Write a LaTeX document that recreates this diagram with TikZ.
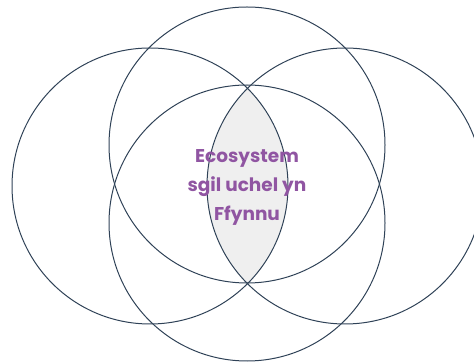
\documentclass[tikz,border=0pt]{standalone}
\usepackage{fontspec}
\setmainfont{Poppins}
\usetikzlibrary{positioning}
\definecolor{ringline}{HTML}{2F4257}
\definecolor{lensgrey}{HTML}{EFEFEF}
\definecolor{labelpurple}{HTML}{9055A2}

\begin{document}
\begin{tikzpicture}[x=1pt, y=-1pt, ring/.style={draw=ringline, line width=1pt}]
    \useasboundingbox (0,0) rectangle (474,363);
    % shaded overlap of left and right rings
    \begin{scope}
        \clip (150,186) circle (138pt);
        \fill[lensgrey] (345,186) circle (138pt);
    \end{scope}
    \draw[ring] (150,186) circle (138pt);
    \draw[ring] (247,145) circle (138pt);
    \draw[ring] (345,186) circle (138pt);
    \draw[ring] (247,223) circle (138pt);
    \node[text=labelpurple, font=\bfseries\fontsize{18.5}{29}\selectfont, align=center] (label) at (247,187) {Ecosystem\\sgil uchel yn\\Ffynnu};
\end{tikzpicture}
\end{document}
